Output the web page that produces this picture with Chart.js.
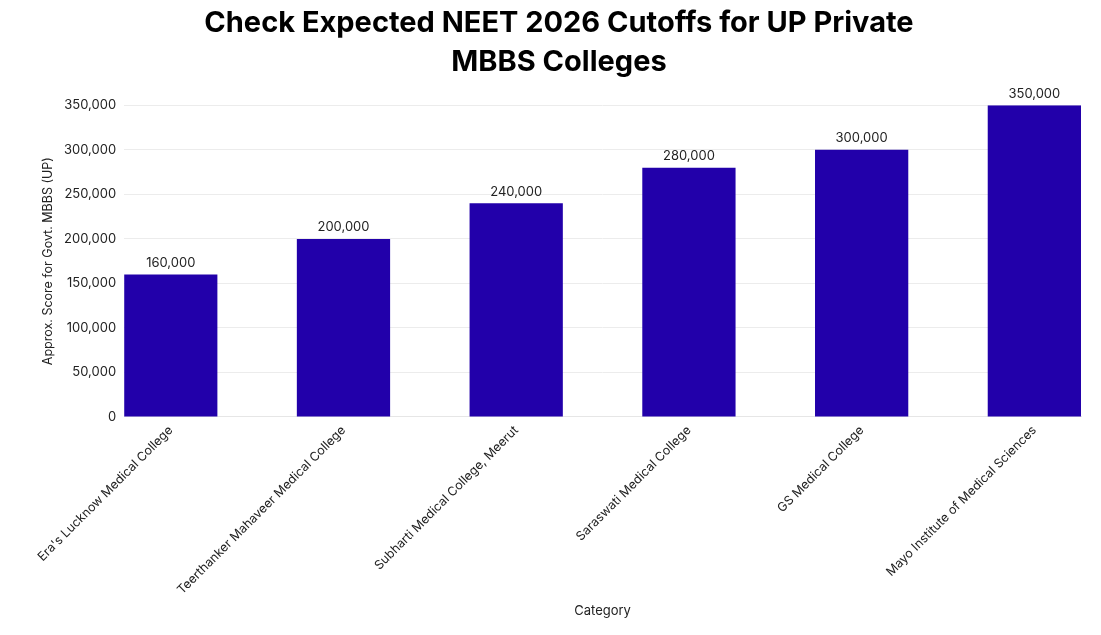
<!DOCTYPE html>
<html>
<head>
<meta charset="utf-8">
<script src="https://cdn.jsdelivr.net/npm/chart.js@4.4.1/dist/chart.umd.min.js"></script>
<style>
  html, body { margin: 0; padding: 0; background: #fff; }
  #wrap { width: 1101px; height: 635px; }
</style>
</head>
<body>
<div id="wrap"><canvas id="cutoffChart"></canvas></div>
<script>
// Chart data
const colleges = [
    "Era's Lucknow Medical College",
    'Teerthanker Mahaveer Medical College',
    'Subharti Medical College, Meerut',
    'Saraswati Medical College',
    'GS Medical College',
    'Mayo Institute of Medical Sciences'
];
const scores = [160000, 200000, 240000, 280000, 300000, 350000];
const yTicks = [0, 50000, 100000, 150000, 200000, 250000, 300000, 350000];

const fontFamily = "Inter, 'Noto Sans', sans-serif";
const textColor = '#222';

// bars sit flush with the plot edges, so use a numeric x scale
const points = scores.map((v, i) => ({ x: i, y: v }));
const halfBar = 0.27;

// Value labels above bars
const valueLabels = {
    id: 'valueLabels',
    afterDatasetsDraw(chart) {
        const ctx = chart.ctx;
        const meta = chart.getDatasetMeta(0);
        ctx.save();
        ctx.font = '13px ' + fontFamily;
        ctx.fillStyle = textColor;
        ctx.textAlign = 'center';
        ctx.textBaseline = 'bottom';
        meta.data.forEach((bar, i) => {
            ctx.fillText(scores[i].toLocaleString('en-US'), bar.x, bar.y - 5);
        });
        ctx.restore();
    }
};

const ctx = document.getElementById('cutoffChart').getContext('2d');
const cutoffChart = new Chart(ctx, {
    type: 'bar',
    data: {
        datasets: [{
            label: 'Approx. Score for Govt. MBBS (UP)',
            data: points,
            backgroundColor: '#2200aa',
            borderWidth: 0,
            categoryPercentage: 1,
            barPercentage: 0.54
        }]
    },
    plugins: [valueLabels],
    options: {
        responsive: true,
        maintainAspectRatio: false,
        animation: false,
        layout: {
            padding: { left: 37, right: 20, top: 4, bottom: 12 }
        },
        plugins: {
            legend: { display: false },
            tooltip: { enabled: false },
            title: {
                display: true,
                text: ['Check Expected NEET 2026 Cutoffs for UP Private', 'MBBS Colleges'],
                color: '#000',
                font: { family: fontFamily, size: 29, weight: 'bold', lineHeight: 1.35 },
                padding: { top: 0, bottom: 23 }
            }
        },
        scales: {
            x: {
                type: 'linear',
                offset: false,
                min: -halfBar,
                max: colleges.length - 1 + halfBar,
                grid: { display: false, drawTicks: false },
                border: { display: true, color: '#e6e6e6' },
                ticks: {
                    stepSize: 1,
                    includeBounds: false,
                    autoSkip: false,
                    minRotation: 45,
                    maxRotation: 45,
                    padding: 6,
                    color: textColor,
                    font: { family: fontFamily, size: 12.5 },
                    callback: function(value) {
                        return Number.isInteger(value) ? colleges[value] : '';
                    }
                },
                title: {
                    display: true,
                    text: 'Category',
                    color: textColor,
                    font: { family: fontFamily, size: 13 },
                    padding: { top: 0 }
                }
            },
            y: {
                min: 0,
                max: yTicks[yTicks.length - 1],
                afterBuildTicks: function(scale) {
                    scale.ticks = yTicks.map(v => ({ value: v }));
                },
                grid: { color: '#ececec', drawTicks: false },
                border: { display: false },
                ticks: {
                    padding: 8,
                    color: textColor,
                    font: { family: fontFamily, size: 13 },
                    callback: function(value) {
                        return value.toLocaleString('en-US');
                    }
                },
                title: {
                    display: true,
                    text: 'Approx. Score for Govt. MBBS (UP)',
                    color: textColor,
                    font: { family: fontFamily, size: 12.5 },
                    padding: { bottom: 0 }
                }
            }
        }
    }
});
</script>
</body>
</html>
